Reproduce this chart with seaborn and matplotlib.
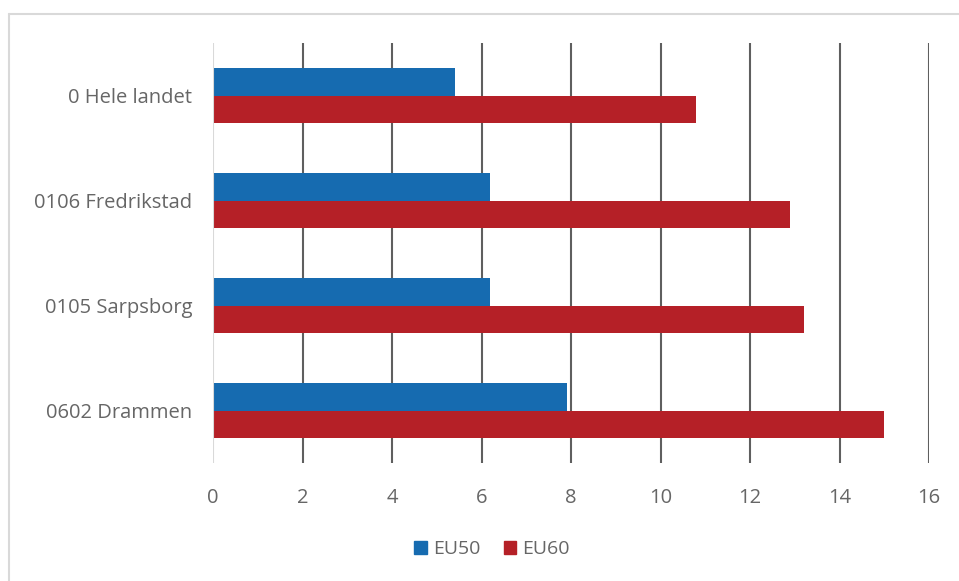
import numpy as np
import pandas as pd
import seaborn as sns
import matplotlib.pyplot as plt
from matplotlib.lines import Line2D
from matplotlib.patches import Patch

kommuner = ['0 Hele landet', '0106 Fredrikstad', '0105 Sarpsborg', '0602 Drammen']
eu50 = [5.4, 6.2, 6.2, 7.9]
eu60 = [10.8, 12.9, 13.2, 15.0]
serier = ['EU50', 'EU60']
farger = ['#166bb0', '#b52027']

df = pd.DataFrame({'Kommune': kommuner * 2,
                   'Verdi': eu50 + eu60,
                   'Serie': ['EU50'] * len(kommuner) + ['EU60'] * len(kommuner)})

sns.set_style('white')
plt.rcParams['font.family'] = ['Open Sans', 'DejaVu Sans']
W, H = 959, 581
fig = plt.figure(figsize=(W / 100, H / 100), dpi=100)
ax = fig.add_axes([213 / W, 1 - 463 / H, (929 - 213) / W, (463 - 43) / H])

sns.barplot(data=df, x='Verdi', y='Kommune', hue='Serie', order=kommuner,
            hue_order=serier, palette=farger, width=0.52, orient='h',
            saturation=1, linewidth=0, ax=ax, legend=False)

ax.set_xlim(0, 16)
ax.set_ylim(3.5, -0.5)
ax.set_xticks(range(0, 17, 2))
for x in range(2, 17, 2):
    ax.axvline(x, color='#5f5f5f', lw=1.5, zorder=0)
ax.axvline(0, color='#d9d9d9', lw=1.5, zorder=3)
for s in ax.spines.values():
    s.set_visible(False)
ax.tick_params(axis='both', length=0, labelsize=14.5, labelcolor='#666666')
ax.tick_params(axis='x', pad=18)
ax.tick_params(axis='y', pad=15)
ax.set_xlabel('')
ax.set_ylabel('')

handles = [Patch(color=c, label=s) for s, c in zip(serier, farger)]
fig.legend(handles=handles, loc='center', bbox_to_anchor=(492 / W, 1 - 549 / H),
           ncol=2, frameon=False, fontsize=14, handlelength=0.65,
           handleheight=0.65, handletextpad=0.3, columnspacing=1.2,
           labelcolor='#666666')

# chart border (only top and left visible)
fig.add_artist(Line2D([9 / W, 9 / W], [0, 1 - 14 / H], color='#d9d9d9', lw=1.5))
fig.add_artist(Line2D([9 / W, 1], [1 - 14 / H, 1 - 14 / H], color='#d9d9d9', lw=1.5))

fig.savefig('out.png', dpi=100)
